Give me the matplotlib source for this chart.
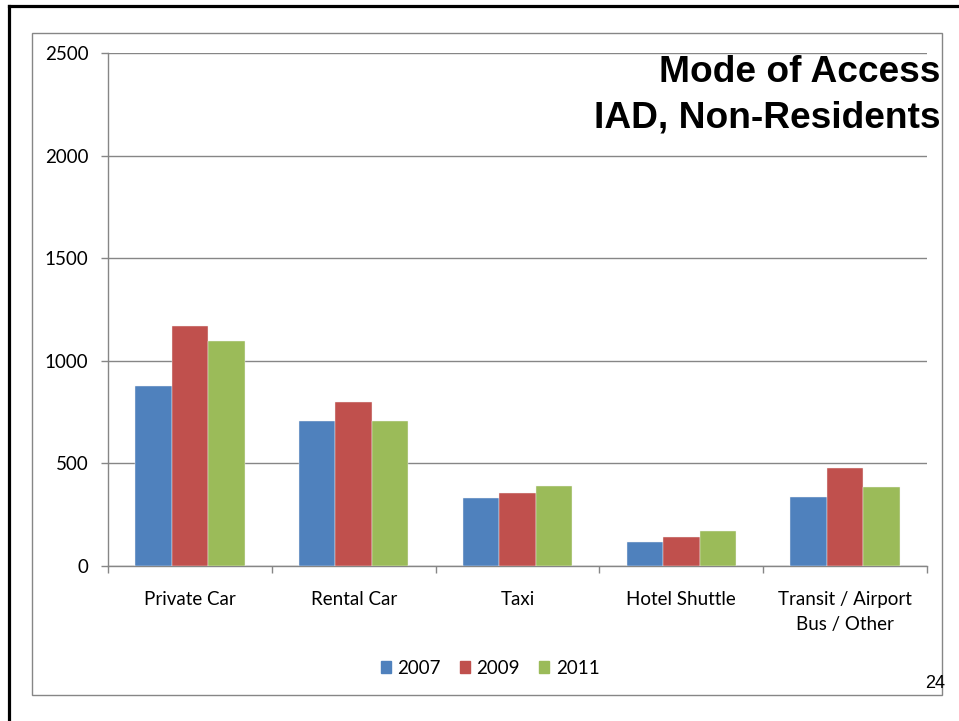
import matplotlib.pyplot as plt
from matplotlib.patches import Rectangle, Patch
from matplotlib.lines import Line2D
import numpy as np

categories = ['Private Car', 'Rental Car', 'Taxi', 'Hotel Shuttle',
              'Transit / Airport\nBus / Other']
years = ['2007', '2009', '2011']
v2007 = [875, 709, 329, 115, 334]
v2009 = [1169, 797, 358, 139, 476]
v2011 = [1095, 707, 388, 173, 383]
colors = ['#4F81BD', '#C0504D', '#9BBB59']

W, H = 959, 721
fig = plt.figure(figsize=(W / 100, H / 100), dpi=100)
plt.rcParams['font.family'] = ['Lato', 'DejaVu Sans']

# slide frame (black, top and left) and chart-area border (gray)
fig.add_artist(Line2D([8.5 / W, 8.5 / W], [0, 1 - 5.5 / H], color='black',
                      lw=2.3, transform=fig.transFigure))
fig.add_artist(Line2D([8.5 / W, 1], [1 - 5.5 / H, 1 - 5.5 / H], color='black',
                      lw=2.3, transform=fig.transFigure))
fig.add_artist(Rectangle((31.7 / W, 1 - 695 / H), (941.7 - 31.7) / W,
                         (695 - 33.3) / H, fill=False, edgecolor='#868686',
                         lw=1, transform=fig.transFigure))

left, right, top, bottom = 108, 927, 53, 566
ax = fig.add_axes([left / W, 1 - bottom / H, (right - left) / W, (bottom - top) / H])

x = np.arange(len(categories))
bw = 0.223
for i, (vals, c) in enumerate(zip([v2007, v2009, v2011], colors)):
    ax.bar(x + (i - 1) * bw, vals, bw, color=c, edgecolor='#f4f4f4', lw=0.3, zorder=3)

ax.set_xlim(-0.5, len(categories) - 0.5)
ax.set_ylim(0, 2500)
ax.set_yticks(range(0, 2501, 500))
ax.grid(axis='y', color='#868686', lw=1, zorder=0)

for s in ['top', 'right']:
    ax.spines[s].set_visible(False)
for s in ['left', 'bottom']:
    ax.spines[s].set_color('#868686')
    ax.spines[s].set_linewidth(1)

ax.set_xticks(np.arange(-0.5, len(categories)), [''] * (len(categories) + 1))
ax.set_xticks(x, categories, minor=True, linespacing=1.55)
ax.tick_params(axis='x', which='major', length=5, color='#868686', width=1)
ax.tick_params(axis='x', which='minor', length=0, pad=18, labelsize=13.5)
ax.tick_params(axis='y', length=5, color='#868686', width=1, pad=9, labelsize=13.5)

fig.text(940 / W, 1 - 73 / H, 'Mode of Access', ha='right', va='center',
         fontsize=26.7, fontweight='bold', family='Liberation Sans')
fig.text(940 / W, 1 - 118 / H, 'IAD, Non-Residents', ha='right', va='center',
         fontsize=26.7, fontweight='bold', family='Liberation Sans')
fig.text(945 / W, 1 - 683 / H, '24', ha='right', va='center',
         fontsize=13, family='Liberation Sans')

handles = [Patch(color=c, label=y) for c, y in zip(colors, years)]
fig.legend(handles=handles, loc='center', bbox_to_anchor=(490 / W, 1 - 668 / H),
           ncol=3, frameon=False, fontsize=13.5, handlelength=0.55,
           handleheight=0.55, handletextpad=0.35, columnspacing=1.0)

fig.savefig('out.png', dpi=100)
